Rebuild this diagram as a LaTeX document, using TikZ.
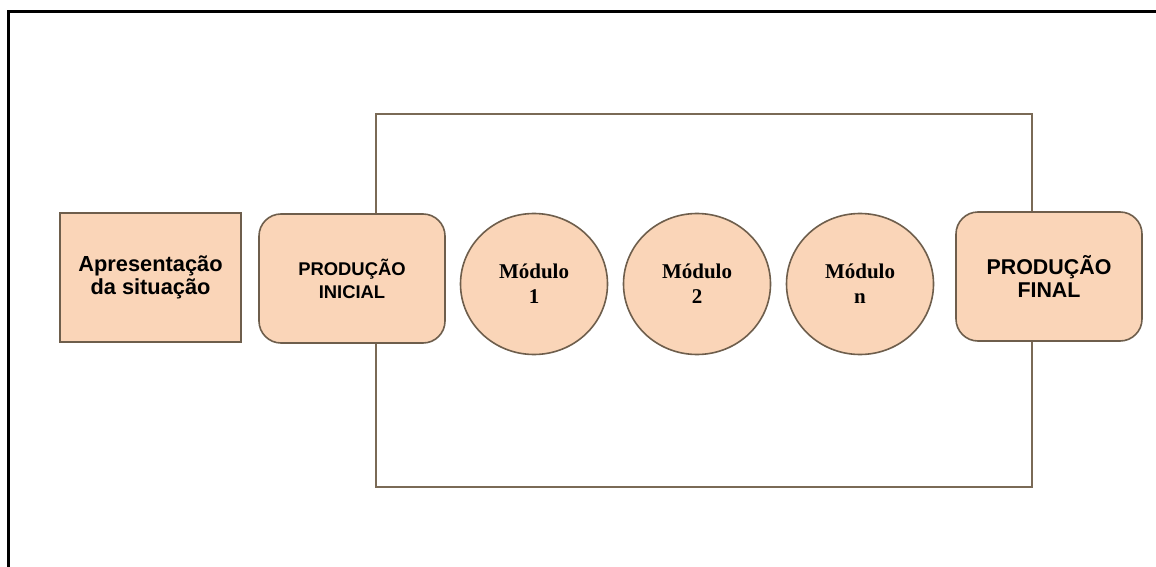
\documentclass[tikz,border=0pt]{standalone}
\usepackage{fontspec}
\setmainfont{Liberation Serif}
\setsansfont{Liberation Sans}
\usetikzlibrary{shapes.geometric}
\definecolor{peach}{HTML}{FAD5B8}
\definecolor{edge}{HTML}{6E5E4C}
\definecolor{frame}{HTML}{7A6A56}
\tikzset{
  sqbox/.style={draw=edge, line width=0.8pt, fill=peach, inner sep=0pt, align=center,
     font=\sffamily\bfseries\fontsize{10.9}{11.6}\selectfont},
  rbox/.style={sqbox, rounded corners=11pt},
  modnode/.style={ellipse, draw=edge, line width=0.8pt, fill=peach, inner sep=0pt, align=center,
     minimum width=73.5pt, minimum height=70.5pt,
     font=\rmfamily\bfseries\fontsize{10.5}{12.5}\selectfont},
}
\begin{document}
\begin{tikzpicture}[x=0.5pt,y=-0.5pt]
\useasboundingbox (0,0) rectangle (1156,567);
\fill[white] (0,0) rectangle (1156,567);
% outer frame (top and left edges visible)
\draw[black, line width=1.5pt] (1156,12) -- (8,12) -- (8,567);
% inner rectangle
\draw[frame, line width=1.4pt] (376,114) rectangle (1032,487);
% nodes
\node[sqbox, minimum width=90.5pt, minimum height=64.5pt] (apres) at (150.5,277.5) {Apresentação\\da situação};
\node[rbox, minimum width=93pt, minimum height=64.5pt, font=\sffamily\bfseries\fontsize{9.2}{11.4}\selectfont] (pini) at (352,278.5) {PRODUÇÃO\\INICIAL};
\node[modnode] (m1) at (534,284) {Módulo\\1};
\node[modnode] (m2) at (697,284) {Módulo\\2};
\node[modnode] (mn) at (860,284) {Módulo\\n};
\node[rbox, minimum width=93pt, minimum height=64.5pt, font=\sffamily\bfseries\fontsize{10.7}{11.8}\selectfont] (pfin) at (1049,276.5) {PRODUÇÃO\\FINAL};
\end{tikzpicture}
\end{document}
